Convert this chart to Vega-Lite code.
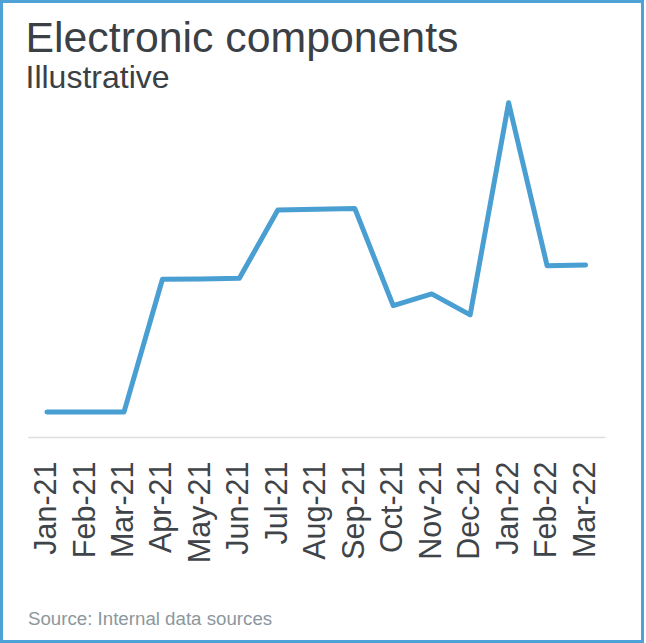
{
  "$schema": "https://vega.github.io/schema/vega-lite/v6.json",
  "autosize": "none",
  "padding": {"left": 1.5, "top": 1.5, "right": 3.5, "bottom": 1.5},
  "width": 641,
  "height": 640,
  "background": "white",
  "config": {
    "view": {"stroke": "#4FA2D6", "strokeWidth": 3},
    "font": "Liberation Sans"
  },
  "title": {
    "text": "Electronic components",
    "subtitle": "Illustrative",
    "anchor": "start",
    "frame": "group",
    "orient": "top",
    "offset": -92,
    "dx": 24,
    "font": "Liberation Sans",
    "fontSize": 42.8,
    "fontWeight": "normal",
    "color": "#3B4045",
    "subtitleFont": "Liberation Sans",
    "subtitleFontSize": 32,
    "subtitleColor": "#3B4045",
    "subtitlePadding": 2
  },
  "data": {
    "values": [
      {"month": "Jan-21", "value": 8.3},
      {"month": "Feb-21", "value": 8.3},
      {"month": "Mar-21", "value": 8.3},
      {"month": "Apr-21", "value": 52.6},
      {"month": "May-21", "value": 52.7},
      {"month": "Jun-21", "value": 52.9},
      {"month": "Jul-21", "value": 75.7},
      {"month": "Aug-21", "value": 75.9},
      {"month": "Sep-21", "value": 76.2},
      {"month": "Oct-21", "value": 43.8},
      {"month": "Nov-21", "value": 47.7},
      {"month": "Dec-21", "value": 40.7},
      {"month": "Jan-22", "value": 111.4},
      {"month": "Feb-22", "value": 57.1},
      {"month": "Mar-22", "value": 57.3}
    ]
  },
  "mark": {"type": "line", "color": "#4A9FD2", "strokeWidth": 5, "strokeCap": "round", "strokeJoin": "round"},
  "encoding": {
    "x": {
      "field": "month",
      "type": "ordinal",
      "sort": null,
      "scale": {"type": "band", "range": [26.3, 603.3], "paddingInner": 0, "paddingOuter": 0},
      "axis": {
        "orient": "bottom",
        "offset": -204.5,
        "domainColor": "#DDDDDD",
        "domainWidth": 1.5,
        "ticks": false,
        "grid": false,
        "labelAngle": 270,
        "labelAlign": "right",
        "labelBaseline": "middle",
        "labelPadding": 24,
        "labelFont": "Liberation Sans",
        "labelFontSize": 30.5,
        "labelColor": "#3F4449",
        "labelOverlap": false,
        "title": "Source: Internal data sources",
        "titleX": 26,
        "titleY": 187,
        "titleAlign": "left",
        "titleAnchor": "start",
        "titleBaseline": "alphabetic",
        "titleFont": "Liberation Sans",
        "titleFontSize": 18.7,
        "titleFontWeight": "normal",
        "titleColor": "#8C979D"
      }
    },
    "y": {
      "field": "value",
      "type": "quantitative",
      "scale": {"domain": [-68.17, 145.17], "nice": false, "zero": false},
      "axis": null
    }
  }
}
